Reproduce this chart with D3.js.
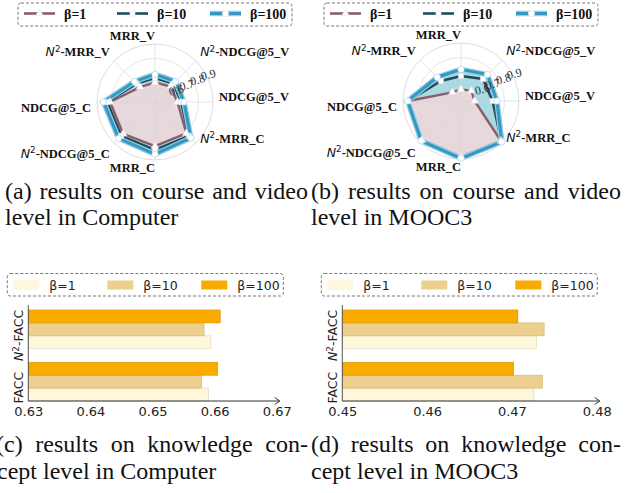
<!DOCTYPE html>
<html>
<head>
<meta charset="utf-8">
<script src="https://cdn.jsdelivr.net/npm/d3@7"></script>
<style>
  body { margin: 0; background: #fff; }
  svg { display: block; }
  .cap { font-family: "Liberation Serif", serif; font-size: 24px; fill: #111; }
</style>
</head>
<body>
<div id="chart"></div>
<script>
// ---- data ----
const radarAxes = ["MRR_V", "N^2-NDCG@5_V", "NDCG@5_V", "N^2-MRR_C", "MRR_C", "N^2-NDCG@5_C", "NDCG@5_C", "N^2-MRR_V"];
const betaLabels = ["β=1", "β=10", "β=100"];
const radarTicks = [0.6, 0.7, 0.8, 0.9];

// (a) Computer, course + video level
const computerBeta1   = [0.635, 0.650, 0.655, 0.805, 0.805, 0.810, 0.810, 0.645];
const computerBeta10  = [0.665, 0.680, 0.680, 0.830, 0.830, 0.830, 0.830, 0.680];
const computerBeta100 = [0.690, 0.700, 0.700, 0.850, 0.860, 0.855, 0.855, 0.700];

// (b) MOOC3, course + video level
const mooc3Beta1   = [0.580, 0.600, 0.594, 0.890, 0.885, 0.880, 0.865, 0.584];
const mooc3Beta10  = [0.672, 0.714, 0.718, 0.893, 0.890, 0.884, 0.866, 0.695];
const mooc3Beta100 = [0.718, 0.758, 0.748, 0.898, 0.895, 0.888, 0.868, 0.732];

// (c)/(d) knowledge concept level
const barCategories = ["N^2-FACC", "FACC"];
const computerFaccBeta1   = [0.6594, 0.6590];
const computerFaccBeta10  = [0.6583, 0.6579];
const computerFaccBeta100 = [0.6609, 0.6605];
const mooc3FaccBeta1   = [0.4729, 0.4726];
const mooc3FaccBeta10  = [0.4738, 0.4736];
const mooc3FaccBeta100 = [0.4707, 0.4702];
const computerTicks = [0.63, 0.64, 0.65, 0.66, 0.67];
const mooc3Ticks = [0.45, 0.46, 0.47, 0.48];

// ---- layout ----
const width = 628, height = 493;
const svg = d3.select("#chart").append("svg")
  .attr("width", width)
  .attr("height", height);

const radarColors = ["#8a5d6b", "#1e4d58", "#3597c3"];
const barColors = ["#fef7da", "#eed08e", "#f9ab00"];
const serif = "Liberation Serif, serif";
const sans = "DejaVu Sans, sans-serif";

// writes "N^2-xxx" as italic N with a superscript 2
function richLabel(text, str, size) {
  if (str.startsWith("N^2")) {
    text.append("tspan")
      .attr("font-family", sans).attr("font-style", "italic").attr("font-weight", "normal")
      .text("N");
    text.append("tspan")
      .attr("font-family", sans).attr("font-weight", "normal")
      .attr("font-size", size * 0.7).attr("dy", -size * 0.38)
      .text("2");
    text.append("tspan").attr("dy", size * 0.38).text(str.slice(3));
  } else {
    text.text(str);
  }
}

function drawRadar(cx, cy, series) {
  const g = svg.append("g").attr("transform", `translate(${cx},${cy})`);
  const r = d3.scaleLinear().domain([0.5, 0.9]).range([0, 58]);
  const angle = d3.scaleLinear().domain([0, radarAxes.length]).range([0, 2 * Math.PI]);
  const px = (i, v) => r(v) * Math.sin(angle(i));
  const py = (i, v) => -r(v) * Math.cos(angle(i));

  const line = d3.lineRadial()
    .angle((d, i) => angle(i))
    .radius(d => r(d))
    .curve(d3.curveLinearClosed);

  // fills first (outer blue band, inner mauve area)
  g.append("path").attr("d", line(series[2])).attr("fill", "#a9d9e4");
  g.append("path").attr("d", line(series[0])).attr("fill", "#e7d8dc");

  // grid
  const grid = g.append("g").attr("fill", "none");
  grid.selectAll("circle")
    .data(radarTicks)
    .join("circle")
    .attr("r", d => r(d))
    .attr("stroke", (d, i) => i === radarTicks.length - 1 ? "#c8c8c8" : "#d6d6d6")
    .attr("stroke-opacity", 0.8)
    .attr("stroke-width", 0.8);
  grid.selectAll("line")
    .data(radarAxes)
    .join("line")
    .attr("x2", (d, i) => px(i, 0.9))
    .attr("y2", (d, i) => py(i, 0.9))
    .attr("stroke", "#d6d6d6")
    .attr("stroke-opacity", 0.8)
    .attr("stroke-width", 0.8);

  // lines
  g.append("path").attr("d", line(series[0])).attr("fill", "none")
    .attr("stroke", radarColors[0]).attr("stroke-width", 2.4);
  g.append("path").attr("d", line(series[1])).attr("fill", "none")
    .attr("stroke", radarColors[1]).attr("stroke-width", 2.6);
  g.append("path").attr("d", line(series[2])).attr("fill", "none")
    .attr("stroke", "#93cde2").attr("stroke-width", 5.5);
  g.append("path").attr("d", line(series[2])).attr("fill", "none")
    .attr("stroke", radarColors[2]).attr("stroke-width", 3);

  // markers
  const shapes = [d3.symbolTriangle, d3.symbolSquare, d3.symbolCircle];
  const sizes = [26, 26, 32];
  series.forEach((vals, s) => {
    g.append("g").selectAll("path")
      .data(vals)
      .join("path")
      .attr("transform", (d, i) => `translate(${px(i, d)},${py(i, d)})`)
      .attr("d", d3.symbol().type(shapes[s]).size(sizes[s]))
      .attr("fill", "#fff")
      .attr("stroke", s === 2 ? "#9fd3e6" : "#e0e0e0")
      .attr("stroke-width", 0.6);
  });

  // radial tick labels
  const tickAngle = 64 * Math.PI / 180;
  g.append("g").selectAll("text")
    .data(radarTicks)
    .join("text")
    .attr("transform", d => {
      const rr = 12 + 0.82 * r(d);
      return `translate(${rr * Math.sin(tickAngle)},${-rr * Math.cos(tickAngle)}) rotate(-15)`;
    })
    .attr("text-anchor", "middle")
    .attr("dominant-baseline", "middle")
    .attr("font-family", serif)
    .attr("font-size", 12)
    .attr("fill", "#333")
    .text(d => d3.format(".1f")(d));

  // axis labels
  const labelR = 64;
  const labelNudge = [-3, -5, -6, -9, 1, 6, 5, -5];
  g.append("g").selectAll("text")
    .data(radarAxes)
    .join("text")
    .attr("x", (d, i) => labelR * Math.sin(angle(i)))
    .attr("y", (d, i) => -labelR * Math.cos(angle(i)) + labelNudge[i] + 4.5)
    .attr("text-anchor", (d, i) => Math.sin(angle(i)) > 0.3 ? "start" : "end")
    .attr("font-family", serif)
    .attr("font-weight", "bold")
    .attr("font-size", 12.5)
    .attr("fill", "#111")
    .each(function (d) { richLabel(d3.select(this), d, 12.5); });

  // legend
  const leg = svg.append("g").attr("transform", `translate(${cx},0)`);
  leg.append("rect")
    .attr("x", -137).attr("y", 3).attr("width", 274).attr("height", 23)
    .attr("rx", 3)
    .attr("fill", "#fff").attr("stroke", "#777").attr("stroke-dasharray", "3,2");
  betaLabels.forEach((lab, i) => {
    const x0 = -131 + i * 93;
    if (i === 2) {
      leg.append("line").attr("x1", x0).attr("x2", x0 + 31).attr("y1", 13.5).attr("y2", 13.5)
        .attr("stroke", "#93cde2").attr("stroke-width", 5.5);
    }
    leg.append("line").attr("x1", x0).attr("x2", x0 + 31).attr("y1", 13.5).attr("y2", 13.5)
      .attr("stroke", radarColors[i]).attr("stroke-width", i === 2 ? 3 : 2.6);
    leg.append("path")
      .attr("transform", `translate(${x0 + 15.5},13.5)`)
      .attr("d", d3.symbol().type(shapes[i]).size(sizes[i]))
      .attr("fill", "#fff").attr("stroke", "#e0e0e0").attr("stroke-width", 0.6);
    leg.append("text")
      .attr("x", x0 + 40).attr("y", 18.5)
      .attr("font-family", serif).attr("font-weight", "bold").attr("font-size", 14)
      .attr("fill", "#111")
      .text(lab);
  });
}

function drawBars(x0, x1, ticks, series) {
  const g = svg.append("g");
  const x = d3.scaleLinear().domain([ticks[0], ticks[ticks.length - 1]]).range([x0, x1]);
  const y = d3.scaleBand().domain(barCategories).range([310, 401]).paddingInner(0.26);
  const yInner = d3.scaleBand().domain([2, 1, 0]).range([0, y.bandwidth()]);

  series.forEach((vals, s) => {
    g.append("g").selectAll("rect")
      .data(vals)
      .join("rect")
      .attr("x", x(ticks[0]))
      .attr("y", (d, i) => y(barCategories[i]) + yInner(s))
      .attr("width", d => x(d) - x(ticks[0]))
      .attr("height", yInner.bandwidth())
      .attr("fill", barColors[s])
      .attr("stroke", d3.rgb(barColors[s]).darker(0.35))
      .attr("stroke-width", 0.7);
  });

  // left spine and arrowed bottom axis
  g.append("line").attr("x1", x0).attr("x2", x0).attr("y1", 305).attr("y2", 401)
    .attr("stroke", "#555").attr("stroke-width", 1);
  g.append("line").attr("x1", x0).attr("x2", x1 + 3).attr("y1", 401).attr("y2", 401)
    .attr("stroke", "#333").attr("stroke-width", 1);
  g.append("path")
    .attr("d", `M${x1 - 2},397.5L${x1 + 3},401L${x1 - 2},404.5`)
    .attr("fill", "none").attr("stroke", "#333").attr("stroke-width", 1);

  const axis = g.append("g")
    .attr("transform", "translate(0,401)")
    .call(d3.axisBottom(x).tickValues(ticks).tickSize(0).tickPadding(6).tickFormat(d3.format(".2f")));
  axis.select(".domain").remove();
  axis.selectAll("text")
    .attr("font-family", sans).attr("font-size", 13).attr("fill", "#222");

  // category labels (rotated)
  g.append("g").selectAll("text")
    .data(barCategories)
    .join("text")
    .attr("transform", d => `translate(${x0 - 5},${y(d) + y.bandwidth() / 2 + 6}) rotate(-90)`)
    .attr("text-anchor", "middle")
    .attr("font-family", sans)
    .attr("font-size", 12.5)
    .attr("fill", "#222")
    .each(function (d) { richLabel(d3.select(this), d, 12.5); });

  // legend
  const lx = x0 - 21;
  g.append("rect")
    .attr("x", lx).attr("y", 273.5).attr("width", 276).attr("height", 22.5)
    .attr("rx", 3)
    .attr("fill", "#fff").attr("stroke", "#777").attr("stroke-dasharray", "3,2");
  betaLabels.forEach((lab, i) => {
    const sx = lx + 6 + i * 94;
    g.append("rect")
      .attr("x", sx).attr("y", 280.5).attr("width", 26).attr("height", 9)
      .attr("fill", barColors[i]);
    g.append("text")
      .attr("x", sx + 36).attr("y", 289.5)
      .attr("font-family", sans).attr("font-size", 12.5).attr("fill", "#222")
      .text(lab);
  });
}

// captions, first lines justified to the column width
function caption(x, y, str, right) {
  const t = svg.append("text").attr("class", "cap").attr("x", x).attr("y", y).text(str);
  if (right !== undefined) {
    const natural = t.node().getComputedTextLength();
    const spaces = (str.match(/ /g) || []).length;
    t.attr("word-spacing", (right - x - natural) / spaces);
  }
}

drawRadar(155, 102, [computerBeta1, computerBeta10, computerBeta100]);
drawRadar(461, 101, [mooc3Beta1, mooc3Beta10, mooc3Beta100]);
drawBars(28.3, 276.7, computerTicks, [computerFaccBeta1, computerFaccBeta10, computerFaccBeta100]);
drawBars(342.3, 596.7, mooc3Ticks, [mooc3FaccBeta1, mooc3FaccBeta10, mooc3FaccBeta100]);

caption(5, 199, "(a) results on course and video", 308);
caption(5, 225, "level in Computer");
caption(311, 199, "(b) results on course and video", 621);
caption(311, 225, "level in MOOC3");
caption(-4, 452, "(c) results on knowledge con-", 308);
caption(-3, 479, "cept level in Computer");
caption(311, 452, "(d) results on knowledge con-", 621);
caption(311, 479, "cept level in MOOC3");
</script>
</body>
</html>
